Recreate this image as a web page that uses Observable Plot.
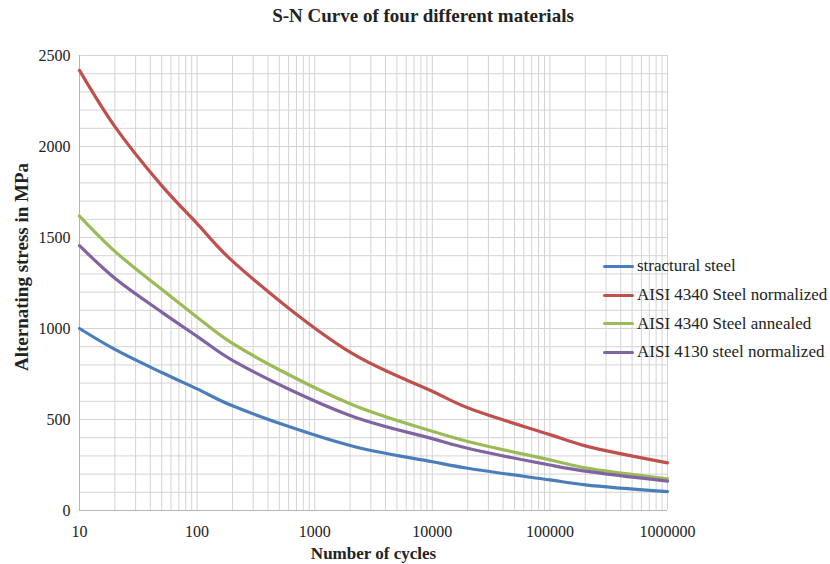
<!DOCTYPE html>
<html>
<head>
<meta charset="utf-8">
<script src="https://cdn.jsdelivr.net/npm/d3@7"></script>
<script src="https://cdn.jsdelivr.net/npm/@observablehq/plot@0.6"></script>
<style>
  html, body { margin: 0; padding: 0; background: #fff; }
  #wrap { position: relative; width: 830px; height: 564px; font-family: "Liberation Serif", "Times New Roman", serif; color: #222; }
  #title { position: absolute; left: 8px; width: 830px; top: 5px; text-align: center; font-weight: bold; font-size: 19px; }
  #chart { position: absolute; left: 0; top: 36px; }
  #legend { position: absolute; left: 603px; top: 252px; font-size: 17px; }
  .row { display: flex; align-items: center; height: 28.7px; }
  .sw { width: 31px; height: 3px; margin-right: 3px; border-radius: 1.5px; }
  #chart svg, #chart svg text { font-family: "Liberation Serif", "Times New Roman", serif; }
</style>
</head>
<body>
<div id="wrap">
  <div id="title">S-N Curve of four different materials</div>
  <div id="chart"></div>
  <div id="legend"></div>
</div>
<script>
const cycles = [10, 20, 50, 100, 200, 2000, 10000, 20000, 100000, 200000, 1000000];
const structuralSteel = [1000, 885, 758, 668, 575, 357, 268, 232, 168, 141, 104];
const aisi4340Normalized = [2418, 2109, 1785, 1576, 1370, 870, 655, 564, 417, 355, 262];
const aisi4340Annealed = [1618, 1424, 1215, 1062, 918, 586, 435, 379, 278, 234, 174];
const aisi4130Normalized = [1455, 1276, 1090, 957, 825, 522, 395, 342, 250, 216, 161];

const seriesNames = ["stractural steel", "AISI 4340 Steel normalized", "AISI 4340 Steel annealed", "AISI 4130 steel normalized"];
const seriesColors = ["#4A7EBB", "#C0504D", "#9BBB59", "#8064A2"];
const seriesValues = [structuralSteel, aisi4340Normalized, aisi4340Annealed, aisi4130Normalized];

const xTickLabels = [10, 100, 1000, 10000, 100000, 1000000];
const yTickLabels = [0, 500, 1000, 1500, 2000, 2500];

const data = [];
seriesNames.forEach((name, i) => {
  cycles.forEach((c, j) => data.push({series: name, cycles: c, stress: seriesValues[i][j]}));
});

const serif = '"Liberation Serif", "Times New Roman", serif';
const chart = Plot.plot({
  width: 830,
  height: 528,
  marginLeft: 79,
  marginRight: 163,
  marginTop: 19,
  marginBottom: 54,
  style: {fontFamily: serif, fontSize: "16px", color: "#222", background: "#fff"},
  x: {type: "log", domain: [10, 1000000]},
  y: {domain: [0, 2500]},
  color: {domain: seriesNames, range: seriesColors},
  marks: [
    Plot.gridX({ticks: 60, stroke: "#d4d4d4", strokeOpacity: 1}),
    Plot.gridY({ticks: 25, stroke: "#d4d4d4", strokeOpacity: 1}),
    Plot.ruleX([10], {stroke: "#b5b5b5"}),
    Plot.ruleY([0], {stroke: "#b5b5b5"}),
    Plot.axisX({ticks: xTickLabels, tickSize: 0, tickPadding: 15, tickFormat: d => String(d), fontSize: 16, fontFamily: serif,
      label: "Number of cycles", labelAnchor: "center", labelArrow: "none", labelOffset: 48}),
    Plot.axisY({ticks: yTickLabels, tickSize: 0, tickPadding: 9, tickFormat: d => String(d), fontSize: 16, fontFamily: serif,
      label: "Alternating stress in MPa", labelAnchor: "center", labelArrow: "none", labelOffset: 65}),
    Plot.line(data, {x: "cycles", y: "stress", z: "series", stroke: "series", strokeWidth: 3.2, curve: "catmull-rom"})
  ]
});
// bold axis titles, sized and placed like the reference
chart.querySelectorAll("g[aria-label='x-axis label'] text").forEach(t => {
  t.setAttribute("font-weight", "bold");
  t.setAttribute("font-size", "17px");
});
chart.querySelectorAll("g[aria-label='y-axis label']").forEach(g => {
  g.setAttribute("transform", (g.getAttribute("transform") || "") + " translate(0,-16)");
});
chart.querySelectorAll("g[aria-label='y-axis label'] text").forEach(t => {
  t.setAttribute("font-weight", "bold");
  t.setAttribute("font-size", "19px");
});
document.getElementById("chart").appendChild(chart);

const legend = document.getElementById("legend");
seriesNames.forEach((name, i) => {
  const row = document.createElement("div");
  row.className = "row";
  const sw = document.createElement("div");
  sw.className = "sw";
  sw.style.background = seriesColors[i];
  const tx = document.createElement("span");
  tx.textContent = name;
  row.appendChild(sw);
  row.appendChild(tx);
  legend.appendChild(row);
});
</script>
</body>
</html>
